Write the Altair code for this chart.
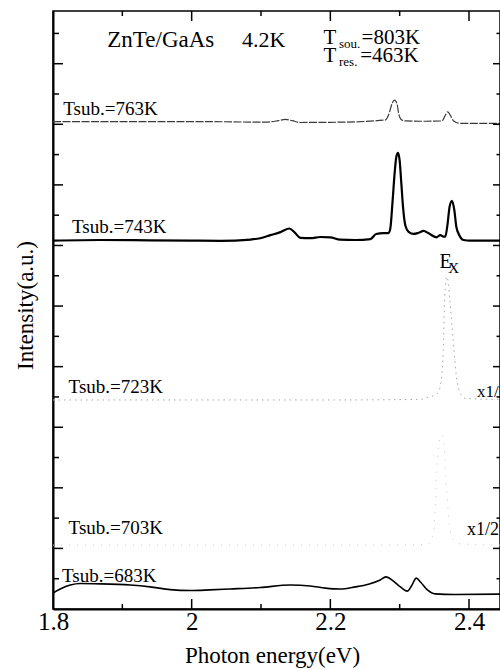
import altair as alt
import pandas as pd

# ---------------- data ----------------
X_MIN, X_MAX = 1.8, 2.4447
Y_MIN, Y_MAX = 0.0, 19.74

e_763 = [1.800, 2.012, 2.106, 2.125, 2.135, 2.145, 2.157, 2.214, 2.279, 2.2855, 2.289, 2.2927,
         2.2962, 2.2985, 2.302, 2.308, 2.330, 2.361, 2.3658, 2.3692, 2.373, 2.3778, 2.3875, 2.4447]
i_763 = [16.09, 16.09, 16.07, 16.12, 16.16, 16.12, 16.06, 16.07, 16.14, 16.41, 16.69, 16.80,
         16.67, 16.36, 16.16, 16.11, 16.10, 16.11, 16.30, 16.41, 16.30, 16.11, 16.03, 16.03]

e_743 = [1.800, 1.868, 1.940, 2.012, 2.041, 2.085, 2.099, 2.1135, 2.128, 2.141, 2.148, 2.157,
         2.171, 2.1855, 2.200, 2.214, 2.236, 2.258, 2.266, 2.2765, 2.284, 2.2865, 2.2898, 2.2927,
         2.2952, 2.2976, 2.2999, 2.3024, 2.3048, 2.3081, 2.3129, 2.3201, 2.3273, 2.3345, 2.3418,
         2.3529, 2.3586, 2.3634, 2.3658, 2.3692, 2.3720, 2.3755, 2.3788, 2.3817, 2.3860, 2.3922,
         2.4019, 2.4447]
i_743 = [12.16, 12.18, 12.17, 12.16, 12.155, 12.195, 12.24, 12.34, 12.44, 12.56, 12.44, 12.25,
         12.24, 12.28, 12.27, 12.19, 12.18, 12.21, 12.38, 12.41, 12.41, 12.56, 13.47, 14.38,
         14.93, 15.06, 14.82, 14.05, 13.28, 12.67, 12.45, 12.38, 12.42, 12.48, 12.40,
         12.27, 12.34, 12.29, 12.29, 12.73, 13.28, 13.47, 13.17, 12.62, 12.34, 12.18,
         12.16, 12.16]

e_723 = [1.800, 2.000, 2.200, 2.330, 2.3394, 2.3539, 2.3586, 2.3628, 2.365, 2.3683, 2.3716,
         2.3745, 2.3774, 2.3817, 2.386, 2.395, 2.4447]
i_723 = [6.90, 6.90, 6.90, 6.92, 6.98, 7.10, 7.35, 8.50, 10.30, 10.97, 10.40,
         9.60, 8.80, 7.70, 7.20, 6.95, 6.92]

e_703 = [1.800, 2.000, 2.200, 2.340, 2.3485, 2.3514, 2.3536, 2.357, 2.360, 2.3634, 2.366,
         2.3683, 2.3716, 2.3774, 2.3875, 2.4447]
i_703 = [2.11, 2.11, 2.11, 2.13, 2.50, 3.40, 4.60, 5.50, 5.75, 5.60, 4.60,
         3.80, 2.80, 2.30, 2.15, 2.11]

e_683 = [1.800, 1.8105, 1.825, 1.839, 1.868, 1.9115, 1.940, 1.969, 1.998, 2.026, 2.055, 2.099,
         2.142, 2.171, 2.193, 2.214, 2.236, 2.255, 2.272, 2.280, 2.291, 2.301, 2.311, 2.317,
         2.324, 2.330, 2.340, 2.351, 2.380, 2.4447]
i_683 = [0.53, 0.66, 0.79, 0.84, 0.83, 0.79, 0.73, 0.64, 0.61, 0.63, 0.66, 0.71,
         0.79, 0.76, 0.69, 0.66, 0.73, 0.82, 0.96, 1.06, 0.92, 0.73, 0.59, 0.76,
         1.02, 0.89, 0.63, 0.50, 0.48, 0.49]

# annotations: text, energy, intensity, font size
ann_text = ["ZnTe/GaAs", "4.2K", "T", "sou.", "=803K", "T", "res.", "=463K",
            "Tsub.=763K", "Tsub.=743K", "Tsub.=723K", "Tsub.=703K", "Tsub.=683K",
            "E", "X", "x1/2", "x1/2"]
ann_e = [1.8783, 2.0727, 2.1903, 2.2125, 2.2450, 2.1903, 2.2125, 2.2430,
         1.8149, 1.8275, 1.8225, 1.8225, 1.8130,
         2.3574, 2.3702, 2.4116, 2.3972]
ann_i = [18.56, 18.56, 18.66, 18.52, 18.66, 18.06, 17.92, 18.06,
         16.30, 12.42, 7.14, 2.475, 0.90,
         11.25, 11.10, 7.00, 2.44]
ann_fs = [23, 22, 21, 13, 21, 21, 13, 21,
          19, 19, 19, 19, 19,
          20, 15, 17, 18]

x_tick_vals = [1.8, 2.0, 2.2, 2.4]
x_minor_vals = [1.9, 2.1, 2.3]
y_tick_vals = list(range(1, 20))

# ---------------- build chart ----------------
W, H = 447, 598
PX_X = (X_MAX - X_MIN) / W
PX_Y = (Y_MAX - Y_MIN) / H
FONT = "Liberation Serif, Times New Roman, serif"

xs = alt.Scale(domain=[X_MIN, X_MAX], nice=False, zero=False)
ys = alt.Scale(domain=[Y_MIN, Y_MAX], nice=False, zero=False)

x_axis = alt.Axis(values=x_tick_vals, format="~g", tickSize=0, labelFont=FONT, labelFontSize=25,
                  labelPadding=0, labelColor="black", labelFlush=False, domainColor="black",
                  domainWidth=2, grid=False, title="Photon energy(eV)", titleFont=FONT,
                  titleFontSize=23, titleFontWeight="normal", titleColor="black",
                  titleY=53, titleX=219, titleBaseline="alphabetic")
y_axis = alt.Axis(labels=False, ticks=False, domainColor="black", domainWidth=2, grid=False,
                  title="Intensity(a.u.)", titleFont=FONT, titleFontSize=23,
                  titleFontWeight="normal", titleColor="black", titleX=-21, titleY=294,
                  titleBaseline="alphabetic")

X = alt.X("E:Q", scale=xs, axis=x_axis)
Y = alt.Y("I:Q", scale=ys, axis=y_axis)

def spectrum(e, i, **style):
    df = pd.DataFrame({"E": e, "I": i})
    return alt.Chart(df).mark_line(interpolate="monotone", clip=True, **style).encode(x=X, y=Y)

lines = [
    spectrum(e_763, i_763, color="#3a3a3a", strokeWidth=1.2, strokeDash=[8, 1.5]),
    spectrum(e_743, i_743, color="black", strokeWidth=2.2),
    spectrum(e_723, i_723, color="#a8a8a8", strokeWidth=1.0, strokeDash=[1.5, 4]),
    spectrum(e_703, i_703, color="#c8c8c8", strokeWidth=1.0, strokeDash=[1, 7]),
    spectrum(e_683, i_683, color="black", strokeWidth=1.6),
]

# inward ticks on all four sides
tick_rows = []
for v in x_tick_vals[1:] + x_minor_vals:
    L = 10 if v in x_tick_vals else 5
    tick_rows.append({"E": v, "E2": v, "I": Y_MIN, "I2": Y_MIN + L * PX_Y})
    tick_rows.append({"E": v, "E2": v, "I": Y_MAX - L * PX_Y, "I2": Y_MAX})
for k in y_tick_vals:
    Ll = 10 if k % 2 == 0 else 6
    Lr = 7 if k % 2 == 0 else 3.5
    tick_rows.append({"E": X_MIN, "E2": X_MIN + Ll * PX_X, "I": k, "I2": k})
    tick_rows.append({"E": X_MAX - Lr * PX_X, "E2": X_MAX, "I": k, "I2": k})
ticks = alt.Chart(pd.DataFrame(tick_rows)).mark_rule(color="black", strokeWidth=1.5).encode(
    x=X, x2="E2:Q", y=Y, y2="I2:Q")

ann_df = pd.DataFrame({"E": ann_e, "I": ann_i, "t": ann_text, "fs": ann_fs})
texts = alt.Chart(ann_df).mark_text(align="left", baseline="alphabetic", font=FONT,
                                    color="black").encode(
    x=X, y=Y, text="t:N", size=alt.Size("fs:Q", scale=None))

chart = alt.layer(*lines, ticks, texts).properties(
    width=W, height=H,
    padding={"left": 53, "top": 11, "right": 0, "bottom": 61},
    autosize=alt.AutoSizeParams(type="none"),
).configure_view(stroke="black", strokeWidth=1.5)

chart.save("out.html", embed_options={"renderer": "svg", "actions": False})
